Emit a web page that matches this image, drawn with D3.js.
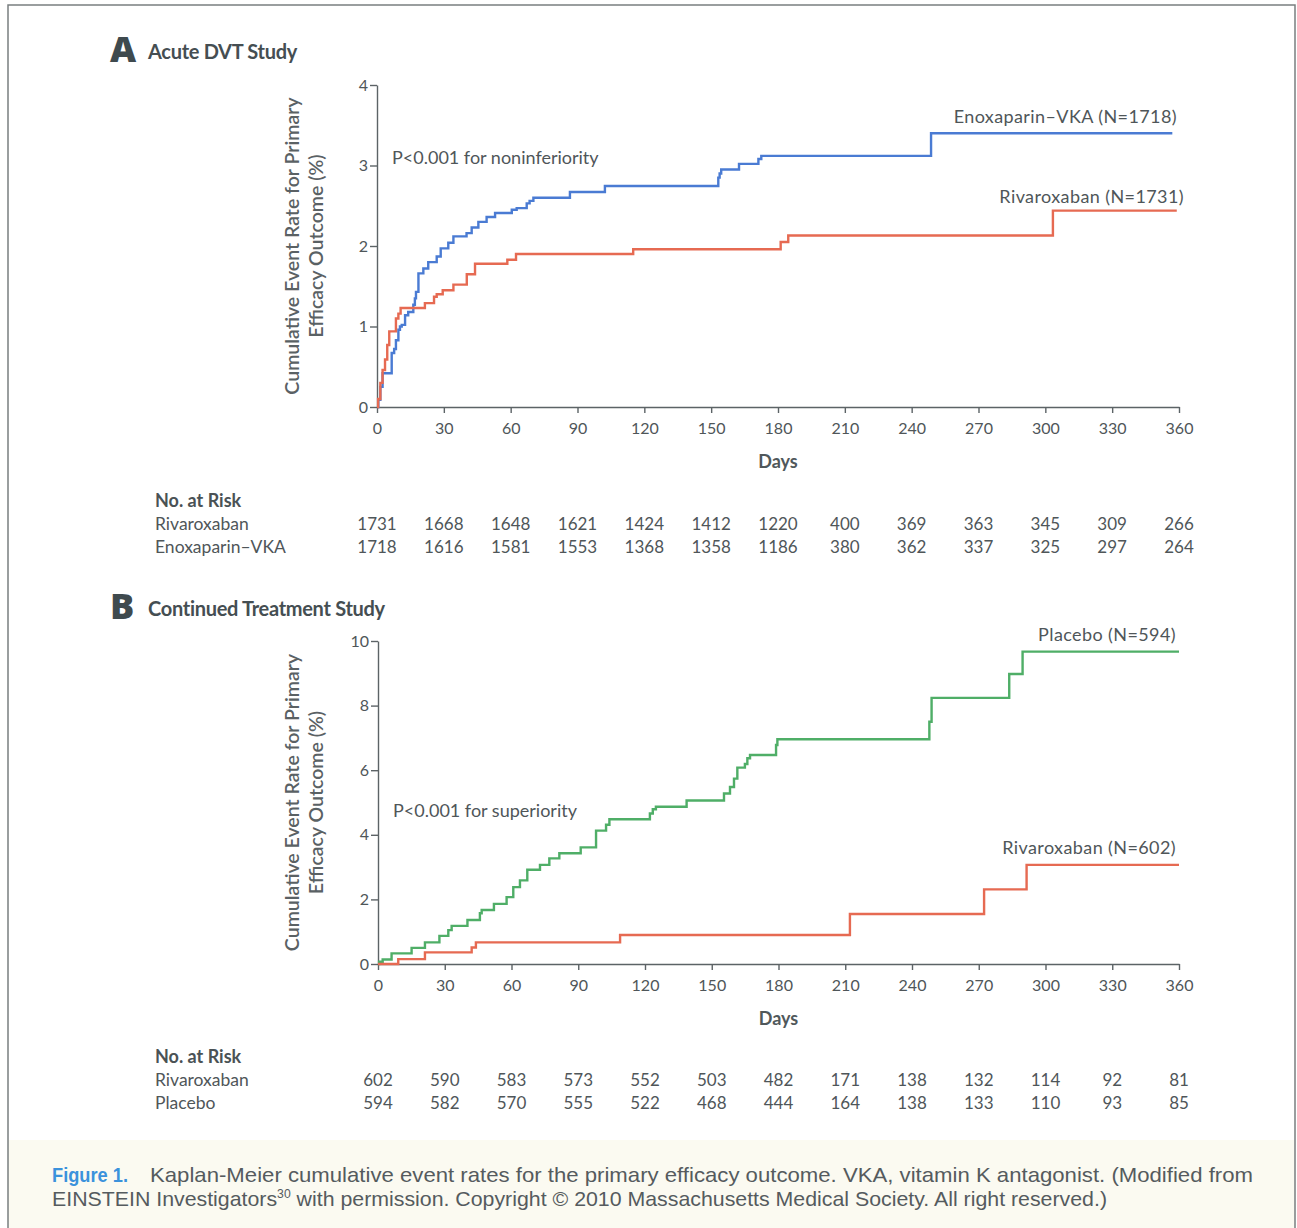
<!DOCTYPE html>
<html><head><meta charset="utf-8">
<script src="https://cdn.jsdelivr.net/npm/d3@7"></script>
<style>
html,body{margin:0;padding:0;background:#fff;}
svg{display:block;}
text{font-family:Lato,"Open Sans",sans-serif;}
text.cap{font-family:"Liberation Sans Narrow","Liberation Sans",Arial,sans-serif;}
</style></head>
<body>
<script>
// ---------- DATA ----------
const xTicks = [0,30,60,90,120,150,180,210,240,270,300,330,360];
const yTicksA = [0,1,2,3,4];
const yTicksB = [0,2,4,6,8,10];

// Panel A: Acute DVT Study (day, cumulative %)
const enoxDays = [0,0.6,1.5,2.5,6.6,7.7,8.5,9.6,10.3,11.1,12.6,14.0,16.3,17.0,17.5,18.6,20.8,23,26.8,28.6,32,34.3,40.2,42.5,45.5,49.2,53,60.5,62.7,67.2,68.5,70.2,86.6,102.3,153.2,153.8,154.5,162.5,171.2,172.5,248.7,357];
const enoxVals = [0,0.09,0.25,0.42,0.67,0.72,0.83,0.96,1.0,1.02,1.14,1.18,1.27,1.35,1.43,1.66,1.72,1.80,1.87,1.97,2.04,2.12,2.16,2.23,2.30,2.36,2.41,2.45,2.47,2.53,2.56,2.60,2.67,2.745,2.85,2.90,2.95,3.02,3.08,3.12,3.40,3.40];
const rivaADays = [0,0.5,1.5,2.5,3.6,4.6,5.5,8.5,9.6,10.6,21.5,25.6,26.8,29.5,34.3,40.3,44,58.5,62.4,115,181.2,184.6,303.4,359];
const rivaAVals = [0,0.1,0.3,0.46,0.59,0.77,0.94,1.10,1.16,1.23,1.29,1.37,1.40,1.45,1.52,1.65,1.78,1.83,1.90,1.96,2.05,2.13,2.44,2.44];

// Panel B: Continued Treatment Study
const placDays = [0,0.5,2.1,6.1,15.1,21.1,27.6,31.6,33.1,40.2,45.8,46.6,52.1,57.8,60.8,63.8,67.1,72.8,77.0,81.5,91.1,98,102.5,104,122.2,123.5,124.9,138.7,155.5,158.2,160,161.5,164.9,166,167.2,178.9,179.5,247.8,248.8,283.7,289.7,360];
const placVals = [0,0.07,0.14,0.33,0.50,0.67,0.87,1.05,1.18,1.36,1.57,1.67,1.86,2.07,2.38,2.59,2.92,3.07,3.27,3.43,3.61,4.13,4.31,4.48,4.66,4.79,4.87,5.06,5.28,5.48,5.74,6.08,6.19,6.37,6.47,6.78,6.96,7.5,8.24,8.98,9.67,9.67];
const rivaBDays = [0,9.1,21.1,42.1,44,108.8,212.1,272.4,291.5,360];
const rivaBVals = [0,0.15,0.36,0.51,0.67,0.90,1.55,2.31,3.07,3.07];

// Numbers at risk
const riskA_riva = [1731,1668,1648,1621,1424,1412,1220,400,369,363,345,309,266];
const riskA_enox = [1718,1616,1581,1553,1368,1358,1186,380,362,337,325,297,264];
const riskB_riva = [602,590,583,573,552,503,482,171,138,132,114,92,81];
const riskB_plac = [594,582,570,555,522,468,444,164,138,133,110,93,85];

// ---------- DRAW ----------
const W = 1297, H = 1228;
const svg = d3.select("body").append("svg").attr("width", W).attr("height", H);
const txt = "#4f5659", axisCol = "#5c6366";
const BLUE = "#4a7bd3", RED = "#e66a52", GREEN = "#4fae67";

// caption background & frame
svg.append("rect").attr("x",8).attr("y",1140).attr("width",1287).attr("height",88).attr("fill","#fbfaf1");
svg.append("path").attr("d","M8,1228 V5 H1295 V1228").attr("fill","none").attr("stroke","#7a7f80").attr("stroke-width",1.5);

function panel(cfg){
  const g = svg.append("g");
  const x = d3.scaleLinear().domain([0,360]).range(cfg.xr);
  const y = d3.scaleLinear().domain(cfg.yd).range(cfg.yr);
  // header
  g.append("text").attr("x",cfg.hx).attr("y",cfg.hy).attr("font-size",36).attr("font-weight",800)
    .attr("fill","#3f4a4e").style("font-family","'Open Sans',Lato,sans-serif").text(cfg.letter);
  g.append("text").attr("x",cfg.hx+38).attr("y",cfg.hy-3).attr("font-size",20).attr("font-weight",700)
    .attr("fill","#454e52").attr("letter-spacing",-0.3).text(cfg.title);
  // axes
  const ya = g.append("g").attr("transform",`translate(${cfg.xr[0]},0)`)
    .call(d3.axisLeft(y).tickValues(cfg.yt).tickFormat(d3.format("d")).tickSize(7).tickSizeOuter(0).tickPadding(2));
  const xa = g.append("g").attr("transform",`translate(0,${cfg.yr[0]})`)
    .call(d3.axisBottom(x).tickValues(xTicks).tickSize(6).tickSizeOuter(0).tickPadding(10));
  [ya,xa].forEach(a=>{
    a.selectAll("path,line").attr("stroke",axisCol).attr("stroke-width",1.4);
    a.selectAll("text").attr("font-size",16).attr("fill",txt);
  });
  // y label
  const cy = (cfg.yr[0]+cfg.yr[1])/2;
  [["Cumulative Event Rate for Primary",292],["Efficacy Outcome (%)",316]].forEach(([t,xx])=>{
    g.append("text").attr("transform",`translate(${xx},${cy}) rotate(-90)`).attr("text-anchor","middle")
      .attr("dy","0.35em").attr("font-size",19.5).attr("font-weight",600).attr("fill","#5a6164").text(t);
  });
  g.append("text").attr("x",(cfg.xr[0]+cfg.xr[1])/2).attr("y",cfg.yr[0]+61).attr("text-anchor","middle")
    .attr("font-size",18).attr("font-weight",700).attr("fill","#50585b").text("Days");
  // curves
  const line = d3.line().curve(d3.curveStepAfter).x(d=>x(d[0])).y(d=>y(d[1]));
  cfg.series.forEach(s=>{
    g.append("path").datum(d3.zip(s.days,s.vals)).attr("d",line).attr("fill","none")
      .attr("stroke",s.color).attr("stroke-width",2.4);
    g.append("text").attr("x",s.lx).attr("y",s.ly).attr("text-anchor","end").attr("font-size",18)
      .attr("letter-spacing",0.4).attr("fill",txt).text(s.label);
  });
  g.append("text").attr("x",cfg.px).attr("y",cfg.py).attr("font-size",18).attr("fill",txt).text(cfg.ptext);
  // at risk
  const ry = cfg.riskY;
  g.append("text").attr("x",155).attr("y",ry).attr("font-size",18).attr("font-weight",700).attr("fill","#4a5255").text("No. at Risk");
  cfg.risk.forEach((r,i)=>{
    const yy = ry + 23*(i+1);
    g.append("text").attr("x",155).attr("y",yy).attr("font-size",17.5).attr("fill",txt).text(r.name);
    g.selectAll(null).data(r.vals).enter().append("text")
      .attr("x",(d,j)=>x(xTicks[j])).attr("y",yy).attr("text-anchor","middle")
      .attr("font-size",17).attr("fill",txt).text(d=>d);
  });
}

panel({letter:"A", title:"Acute DVT Study", hx:110, hy:62,
  xr:[377,1179], yd:[0,4], yr:[407,85], yt:yTicksA,
  ptext:"P<0.001 for noninferiority", px:392, py:164,
  series:[
    {days:enoxDays, vals:enoxVals, color:BLUE, label:"Enoxaparin\u2013VKA (N=1718)", lx:1177, ly:123},
    {days:rivaADays, vals:rivaAVals, color:RED, label:"Rivaroxaban (N=1731)", lx:1184, ly:203}
  ],
  riskY:507, risk:[{name:"Rivaroxaban", vals:riskA_riva},{name:"Enoxaparin\u2013VKA", vals:riskA_enox}]
});

panel({letter:"B", title:"Continued Treatment Study", hx:110, hy:619,
  xr:[378,1179], yd:[0,10], yr:[964,641], yt:yTicksB,
  ptext:"P<0.001 for superiority", px:393, py:817,
  series:[
    {days:placDays, vals:placVals, color:GREEN, label:"Placebo (N=594)", lx:1176, ly:641},
    {days:rivaBDays, vals:rivaBVals, color:RED, label:"Rivaroxaban (N=602)", lx:1176, ly:854}
  ],
  riskY:1063, risk:[{name:"Rivaroxaban", vals:riskB_riva},{name:"Placebo", vals:riskB_plac}]
});

// caption
const cap = svg.append("g").attr("font-size",21).attr("fill","#555b5e");
function capText(x,y,len,t){
  return cap.append("text").attr("class","cap").attr("x",x).attr("y",y).attr("textLength",len)
    .attr("lengthAdjust","spacingAndGlyphs").text(t);
}
capText(52,1182,76,"Figure 1.").attr("fill","#3b92dc").attr("font-weight",700);
capText(150,1182,1103,"Kaplan-Meier cumulative event rates for the primary efficacy outcome. VKA, vitamin K antagonist. (Modified from");
const l2 = cap.append("text").attr("class","cap").attr("x",52).attr("y",1206)
  .attr("textLength",1055).attr("lengthAdjust","spacingAndGlyphs");
l2.append("tspan").text("EINSTEIN Investigators");
l2.append("tspan").attr("font-size",12).attr("dy",-8).text("30");
l2.append("tspan").attr("dy",8).text(" with permission. Copyright \u00a9 2010 Massachusetts Medical Society. All right reserved.)");
</script>
</body></html>
